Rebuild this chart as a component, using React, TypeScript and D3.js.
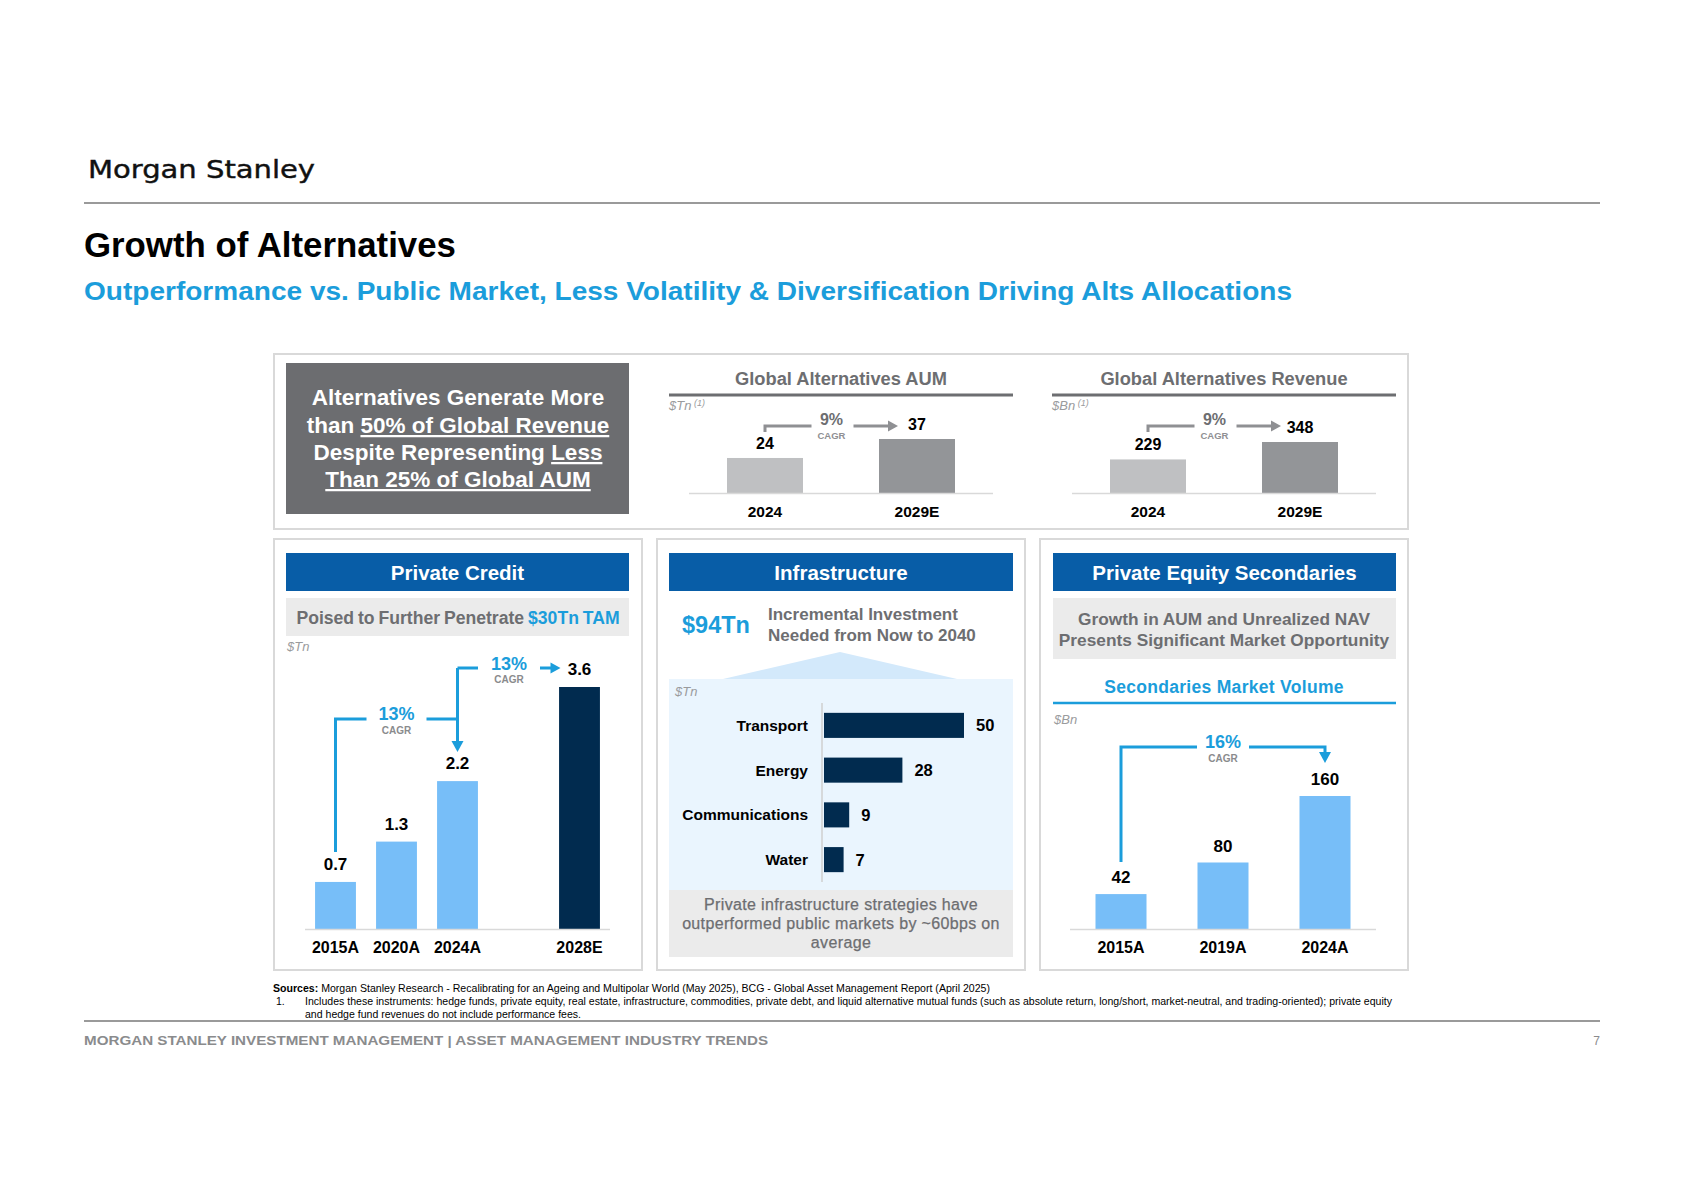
import React from "react";
import * as d3 from "d3";

const FONT = "'Liberation Sans', Arial, Helvetica, sans-serif";
const NARROW = "'Liberation Sans Narrow', 'Arial Narrow', 'Liberation Sans', sans-serif";

// ---------- data ----------
const aumYears = ["2024", "2029E"];
const aumValues = [24, 37];
const revYears = ["2024", "2029E"];
const revValues = [229, 348];
const aumCagr = "9%";
const revCagr = "9%";

const pcYears = ["2015A", "2020A", "2024A", "2028E"];
const pcValues = [0.7, 1.3, 2.2, 3.6];
const pcCagrs = ["13%", "13%"];

const infraCats = ["Transport", "Energy", "Communications", "Water"];
const infraValues = [50, 28, 9, 7];

const secYears = ["2015A", "2019A", "2024A"];
const secValues = [42, 80, 160];
const secCagr = "16%";

// ---------- colours ----------
const C = {
  header: "#085DA7",
  accent: "#1B9DDB",
  lightBar: "#77BEF8",
  navy: "#012B4F",
  gray: "#6D6E71",
  boxGray: "#EBEBEB",
  border: "#D9D9D9",
  infraBg: "#EAF5FE",
  infraTri: "#D3E9FB",
  top1: "#BFC0C2",
  top2: "#939598",
  arrowGray: "#8F9093",
  axis: "#D9D9D9",
};

function TopChart({ title, unit, cats, vals, range, yTop, cagr }: any) {
  const x = d3.scaleBand().domain(cats).range(range).paddingInner(0.5).paddingOuter(0.25);
  const base = 493;
  const y = d3.scaleLinear().domain([0, d3.max(vals) as number]).range([base, yTop]);
  const c0 = (x(cats[0]) as number) + x.bandwidth() / 2;
  const c1 = (x(cats[1]) as number) + x.bandwidth() / 2;
  const lx0 = range[0] - 20;
  const lx1 = range[1] + 20;
  const tip = c1 - 19;
  const mid = (c0 + tip) / 2;
  const ay = 426;
  return (
    <g fontFamily={FONT}>
      <text x={(lx0 + lx1) / 2} y={385} textAnchor="middle" fontWeight="bold" fontSize={18.3} fill={C.gray}>{title}</text>
      <line x1={lx0} x2={lx1} y1={395} y2={395} stroke={C.gray} strokeWidth={3} />
      <text x={lx0} y={410} fontStyle="italic" fontSize={13} fill="#9A9B9D">{unit}<tspan fontSize={9} dy={-4}> (1)</tspan></text>
      {cats.map((c: string, i: number) => (
        <rect key={c} x={x(c)} y={y(vals[i])} width={x.bandwidth()} height={base - y(vals[i])} fill={i === 0 ? C.top1 : C.top2} />
      ))}
      <line x1={range[0]} x2={range[1]} y1={base + 0.5} y2={base + 0.5} stroke={C.axis} strokeWidth={1.5} />
      {cats.map((c: string) => (
        <text key={c} x={(x(c) as number) + x.bandwidth() / 2} y={517} textAnchor="middle" fontWeight="bold" fontSize={15.5} fill="#000">{c}</text>
      ))}
      {cats.map((c: string, i: number) => (
        <text key={"v" + c} x={(x(c) as number) + x.bandwidth() / 2} y={y(vals[i]) - 9} textAnchor="middle" fontWeight="bold" fontSize={16} fill="#000">{vals[i]}</text>
      ))}
      <path d={`M${c0},${ay + 6}V${ay}H${mid - 20}M${mid + 22},${ay}H${tip - 8}`} fill="none" stroke={C.arrowGray} strokeWidth={3} />
      <polygon points={`${tip - 10},${ay - 5.5} ${tip},${ay} ${tip - 10},${ay + 5.5}`} fill={C.arrowGray} />
      <text x={mid} y={ay - 1} textAnchor="middle" fontWeight="bold" fontSize={16} fill={C.gray}>{cagr}</text>
      <text x={mid} y={ay + 13} textAnchor="middle" fontWeight="bold" fontSize={9.5} fill={C.arrowGray}>CAGR</text>
    </g>
  );
}

function Panel({ x0, x1 }: any) {
  return <rect x={x0} y={539} width={x1 - x0} height={431} fill="#fff" stroke={C.border} strokeWidth={2} />;
}

function Header({ x0, x1, label }: any) {
  return (
    <g>
      <rect x={x0} y={553} width={x1 - x0} height={38} fill={C.header} />
      <text x={(x0 + x1) / 2} y={580} textAnchor="middle" fontWeight="bold" fontSize={20.5} fill="#fff">{label}</text>
    </g>
  );
}

function PrivateCredit() {
  const domain = [pcYears[0], pcYears[1], pcYears[2], "_gap", pcYears[3]];
  const x = d3.scaleBand().domain(domain).range([305, 610]).paddingInner(0.33).paddingOuter(0.165);
  const base = 929;
  const y = d3.scaleLinear().domain([0, 3.6]).range([base, 687]);
  const cx = (k: string) => (x(k) as number) + x.bandwidth() / 2;
  const c0 = cx(pcYears[0]);
  const c2 = cx(pcYears[2]);
  const c3 = cx(pcYears[3]);
  const yb1 = 719;
  const yb2 = 668;
  const m1 = (c0 + c2) / 2;
  const tipY = y(pcValues[2]) - 29;
  const tipX = c3 - 19;
  const m2 = (c2 + tipX) / 2;
  return (
    <g fontFamily={FONT}>
      <Panel x0={274} x1={642} />
      <Header x0={286} x1={629} label="Private Credit" />
      <rect x={286} y={598} width={343} height={38} fill={C.boxGray} />
      <text x={458} y={624} textAnchor="middle" fontWeight="bold" fontSize={17.6} fill={C.gray} wordSpacing={-1}>
        Poised to Further Penetrate <tspan fill={C.accent}>$30Tn TAM</tspan>
      </text>
      <text x={287} y={651} fontStyle="italic" fontSize={13} fill="#9A9B9D">$Tn</text>
      {pcYears.map((c, i) => (
        <rect key={c} x={x(c)} y={y(pcValues[i])} width={x.bandwidth()} height={base - y(pcValues[i])} fill={i === 3 ? C.navy : C.lightBar} />
      ))}
      <line x1={305} x2={610} y1={base + 0.5} y2={base + 0.5} stroke={C.axis} strokeWidth={1.5} />
      {pcYears.map((c) => (
        <text key={c} x={cx(c)} y={953} textAnchor="middle" fontWeight="bold" fontSize={16} fill="#000">{c}</text>
      ))}
      {pcYears.map((c, i) => (
        <text key={"v" + c} x={cx(c)} y={y(pcValues[i]) - 12} textAnchor="middle" fontWeight="bold" fontSize={17} fill="#000">{pcValues[i].toFixed(1)}</text>
      ))}
      <path d={`M${c0},${y(pcValues[0]) - 30}V${yb1}H${m1 - 30}M${m1 + 30},${yb1}H${c2}`} fill="none" stroke={C.accent} strokeWidth={3} />
      <path d={`M${c2},${yb2}V${tipY - 9}M${c2},${yb2}H${m2 - 31}M${m2 + 31},${yb2}H${tipX - 8}`} fill="none" stroke={C.accent} strokeWidth={3} />
      <polygon points={`${c2 - 6},${tipY - 11} ${c2 + 6},${tipY - 11} ${c2},${tipY}`} fill={C.accent} />
      <polygon points={`${tipX - 10},${yb2 - 5.5} ${tipX},${yb2} ${tipX - 10},${yb2 + 5.5}`} fill={C.accent} />
      <text x={m1} y={yb1 + 1} textAnchor="middle" fontWeight="bold" fontSize={18} fill={C.accent}>{pcCagrs[0]}</text>
      <text x={m1} y={yb1 + 15} textAnchor="middle" fontWeight="bold" fontSize={10} fill="#8A8B8D">CAGR</text>
      <text x={m2} y={yb2 + 2} textAnchor="middle" fontWeight="bold" fontSize={18} fill={C.accent}>{pcCagrs[1]}</text>
      <text x={m2} y={yb2 + 15} textAnchor="middle" fontWeight="bold" fontSize={10} fill="#8A8B8D">CAGR</text>
    </g>
  );
}

function Infrastructure() {
  const y = d3.scaleBand().domain(infraCats).range([703, 882]).paddingInner(0.44).paddingOuter(0.22);
  const x = d3.scaleLinear().domain([0, 50]).range([824, 964]);
  return (
    <g fontFamily={FONT}>
      <Panel x0={657} x1={1025} />
      <Header x0={669} x1={1013} label="Infrastructure" />
      <text x={682} y={633} fontWeight="bold" fontSize={23.5} fill={C.accent}>$94Tn</text>
      <text x={768} y={620} fontWeight="bold" fontSize={17} fill={C.gray}>Incremental Investment</text>
      <text x={768} y={641} fontWeight="bold" fontSize={17} fill={C.gray}>Needed from Now to 2040</text>
      <polygon points="723,679 840,652 957,679" fill={C.infraTri} />
      <rect x={669} y={679} width={344} height={211} fill={C.infraBg} />
      <text x={675} y={696} fontStyle="italic" fontSize={13} fill="#9A9B9D">$Tn</text>
      <line x1={822} x2={822} y1={703} y2={882} stroke="#CFCFCF" strokeWidth={1.5} />
      {infraCats.map((c, i) => (
        <g key={c}>
          <rect x={x(0)} y={y(c)} width={x(infraValues[i]) - x(0)} height={y.bandwidth()} fill={C.navy} />
          <text x={808} y={(y(c) as number) + y.bandwidth() / 2 + 5.5} textAnchor="end" fontWeight="bold" fontSize={15.5} fill="#000">{c}</text>
          <text x={x(infraValues[i]) + 12} y={(y(c) as number) + y.bandwidth() / 2 + 6} fontWeight="bold" fontSize={16.5} fill="#000">{infraValues[i]}</text>
        </g>
      ))}
      <rect x={669} y={890} width={344} height={67} fill={C.boxGray} />
      <g textAnchor="middle" fontSize={16} fill={C.gray} letterSpacing={0.35} stroke={C.gray} strokeWidth={0.25}>
        <text x={841} y={910}>Private infrastructure strategies have</text>
        <text x={841} y={929}>outperformed public markets by ~60bps on</text>
        <text x={841} y={948}>average</text>
      </g>
    </g>
  );
}

function Secondaries() {
  const x = d3.scaleBand().domain(secYears).range([1070, 1376]).paddingInner(0.5).paddingOuter(0.25);
  const base = 929;
  const y = d3.scaleLinear().domain([0, 160]).range([base, 796]);
  const cx = (k: string) => (x(k) as number) + x.bandwidth() / 2;
  const c0 = cx(secYears[0]);
  const c2 = cx(secYears[2]);
  const m = (c0 + c2) / 2;
  const yb = 747;
  const tipY = y(secValues[2]) - 33;
  return (
    <g fontFamily={FONT}>
      <Panel x0={1040} x1={1408} />
      <Header x0={1053} x1={1396} label="Private Equity Secondaries" />
      <rect x={1053} y={598} width={343} height={61} fill={C.boxGray} />
      <text x={1224} y={625} textAnchor="middle" fontWeight="bold" fontSize={17.3} fill={C.gray}>Growth in AUM and Unrealized NAV</text>
      <text x={1224} y={646} textAnchor="middle" fontWeight="bold" fontSize={17.3} fill={C.gray}>Presents Significant Market Opportunity</text>
      <text x={1224} y={693} textAnchor="middle" fontWeight="bold" fontSize={17.5} fill={C.accent} letterSpacing={0.3}>Secondaries Market Volume</text>
      <line x1={1053} x2={1396} y1={703} y2={703} stroke={C.accent} strokeWidth={2.5} />
      <text x={1054} y={724} fontStyle="italic" fontSize={13} fill="#9A9B9D">$Bn</text>
      {secYears.map((c, i) => (
        <rect key={c} x={x(c)} y={y(secValues[i])} width={x.bandwidth()} height={base - y(secValues[i])} fill={C.lightBar} />
      ))}
      <line x1={1070} x2={1376} y1={base + 0.5} y2={base + 0.5} stroke={C.axis} strokeWidth={1.5} />
      {secYears.map((c) => (
        <text key={c} x={cx(c)} y={953} textAnchor="middle" fontWeight="bold" fontSize={16} fill="#000">{c}</text>
      ))}
      {secYears.map((c, i) => (
        <text key={"v" + c} x={cx(c)} y={y(secValues[i]) - 11} textAnchor="middle" fontWeight="bold" fontSize={17} fill="#000">{secValues[i]}</text>
      ))}
      <path d={`M${c0},${y(secValues[0]) - 32}V${yb}H${m - 26}M${m + 26},${yb}H${c2}V${tipY - 9}`} fill="none" stroke={C.accent} strokeWidth={3} />
      <polygon points={`${c2 - 6},${tipY - 11} ${c2 + 6},${tipY - 11} ${c2},${tipY}`} fill={C.accent} />
      <text x={m} y={yb + 1} textAnchor="middle" fontWeight="bold" fontSize={18} fill={C.accent}>{secCagr}</text>
      <text x={m} y={yb + 15} textAnchor="middle" fontWeight="bold" fontSize={10} fill="#8A8B8D">CAGR</text>
    </g>
  );
}

export default function App() {
  const ul = { textDecoration: "underline" } as any;
  return (
    <div style={{ position: "absolute", left: 0, top: 0 }}>
      <svg width={1684} height={1191} style={{ display: "block", background: "#fff" }} fontFamily={FONT}>
        <text x={88} y={178} fontFamily="'DejaVu Sans', sans-serif" fontSize={24} fill="#111" stroke="#111" strokeWidth={0.4} textLength={227} lengthAdjust="spacingAndGlyphs">Morgan Stanley</text>
        <line x1={84} x2={1600} y1={203} y2={203} stroke="#9A9A9A" strokeWidth={2} />
        <text x={84} y={257} fontWeight="bold" fontSize={34.8} fill="#000">Growth of Alternatives</text>
        <text x={84} y={300} fontWeight="bold" fontSize={26} fill={C.accent} textLength={1208} lengthAdjust="spacingAndGlyphs">Outperformance vs. Public Market, Less Volatility &amp; Diversification Driving Alts Allocations</text>

        {/* top panel */}
        <rect x={274} y={354} width={1134} height={175} fill="#fff" stroke={C.border} strokeWidth={2} />
        <rect x={286} y={363} width={343} height={151} fill="#6C6D70" />
        <g textAnchor="middle" fontWeight="bold" fontSize={22.5} fill="#fff">
          <text x={458} y={405}>Alternatives Generate More</text>
          <text x={458} y={433}>than <tspan style={ul}>50% of Global Revenue</tspan></text>
          <text x={458} y={460}>Despite Representing <tspan style={ul}>Less</tspan></text>
          <text x={458} y={487} style={ul}>Than 25% of Global AUM</text>
        </g>
        <TopChart title="Global Alternatives AUM" unit="$Tn" cats={aumYears} vals={aumValues} range={[689, 993]} yTop={439} cagr={aumCagr} />
        <TopChart title="Global Alternatives Revenue" unit="$Bn" cats={revYears} vals={revValues} range={[1072, 1376]} yTop={442} cagr={revCagr} />

        <PrivateCredit />
        <Infrastructure />
        <Secondaries />

        {/* footnotes */}
        <text x={273} y={992} fontFamily={NARROW} fontSize={10.5} fill="#000" textLength={717} lengthAdjust="spacingAndGlyphs">
          <tspan fontWeight="bold">Sources:</tspan> Morgan Stanley Research - Recalibrating for an Ageing and Multipolar World (May 2025), BCG - Global Asset Management Report (April 2025)
        </text>
        <text x={276} y={1005} fontFamily={NARROW} fontSize={10.5} fill="#000">1.</text>
        <text x={305} y={1005} fontFamily={NARROW} fontSize={10.5} fill="#000" textLength={1087} lengthAdjust="spacingAndGlyphs">Includes these instruments: hedge funds, private equity, real estate, infrastructure, commodities, private debt, and liquid alternative mutual funds (such as absolute return, long/short, market-neutral, and trading-oriented); private equity</text>
        <text x={305} y={1018} fontFamily={NARROW} fontSize={10.5} fill="#000" textLength={276} lengthAdjust="spacingAndGlyphs">and hedge fund revenues do not include performance fees.</text>
        <line x1={84} x2={1600} y1={1021} y2={1021} stroke="#9A9A9A" strokeWidth={2} />
        <text x={84} y={1045} fontWeight="bold" fontSize={12.5} fill="#8A8B8D" textLength={684} lengthAdjust="spacingAndGlyphs">MORGAN STANLEY INVESTMENT MANAGEMENT | ASSET MANAGEMENT INDUSTRY TRENDS</text>
        <text x={1600} y={1045} textAnchor="end" fontSize={12} fill="#8A8B8D">7</text>
      </svg>
    </div>
  );
}
